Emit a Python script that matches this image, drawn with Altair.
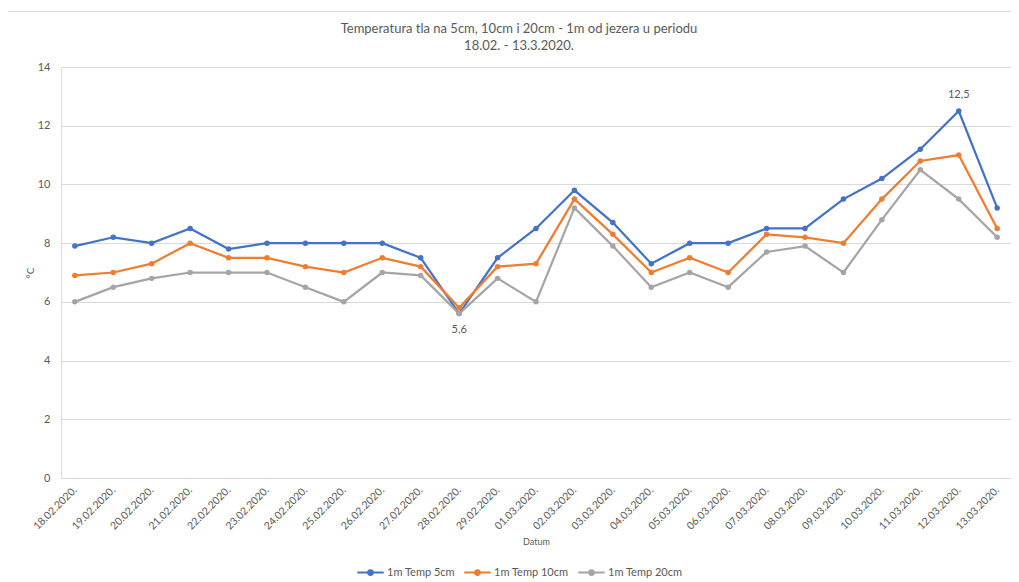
import altair as alt
import pandas as pd

dates = ["18.02.2020.", "19.02.2020.", "20.02.2020.", "21.02.2020.", "22.02.2020.",
         "23.02.2020.", "24.02.2020.", "25.02.2020.", "26.02.2020.", "27.02.2020.",
         "28.02.2020.", "29.02.2020.", "01.03.2020.", "02.03.2020.", "03.03.2020.",
         "04.03.2020.", "05.03.2020.", "06.03.2020.", "07.03.2020.", "08.03.2020.",
         "09.03.2020.", "10.03.2020.", "11.03.2020.", "12.03.2020.", "13.03.2020."]
temp5 = [7.9, 8.2, 8.0, 8.5, 7.8, 8.0, 8.0, 8.0, 8.0, 7.5, 5.6, 7.5, 8.5,
         9.8, 8.7, 7.3, 8.0, 8.0, 8.5, 8.5, 9.5, 10.2, 11.2, 12.5, 9.2]
temp10 = [6.9, 7.0, 7.3, 8.0, 7.5, 7.5, 7.2, 7.0, 7.5, 7.2, 5.8, 7.2, 7.3,
          9.5, 8.3, 7.0, 7.5, 7.0, 8.3, 8.2, 8.0, 9.5, 10.8, 11.0, 8.5]
temp20 = [6.0, 6.5, 6.8, 7.0, 7.0, 7.0, 6.5, 6.0, 7.0, 6.9, 5.6, 6.8, 6.0,
          9.2, 7.9, 6.5, 7.0, 6.5, 7.7, 7.9, 7.0, 8.8, 10.5, 9.5, 8.2]
series = ["1m Temp 5cm", "1m Temp 10cm", "1m Temp 20cm"]
colors = ["#4472C4", "#ED7D31", "#A5A5A5"]

rows = []
for name, vals in zip(series, [temp5, temp10, temp20]):
    for d, v in zip(dates, vals):
        rows.append({"Datum": d, "Serija": name, "T": v})
df = pd.DataFrame(rows)

blue = df[df["Serija"] == series[0]]
lo = blue[blue["T"] == blue["T"].min()]
hi = blue[blue["T"] == blue["T"].max()]

FONT = "Lato"
TXT = "#595959"

x = alt.X("Datum:N", sort=dates,
          scale=alt.Scale(type="point", padding=0.36),
          axis=alt.Axis(title="Datum", labelAngle=-45, labelAlign="right",
                        labelBaseline="middle", labelPadding=10, ticks=False,
                        domain=False, grid=False, labelFontSize=10.5,
                        labelColor=TXT, titleFontSize=9, titleColor=TXT,
                        titleFontWeight="normal", titlePadding=6,
                        labelFont=FONT, titleFont=FONT))
y = alt.Y("T:Q", scale=alt.Scale(domain=[0, 14]),
          axis=alt.Axis(title="°C", values=[0, 2, 4, 6, 8, 10, 12, 14],
                        ticks=False, domain=False, gridColor="#D9D9D9",
                        gridWidth=1, labelFontSize=11, labelColor=TXT,
                        labelPadding=11, titleFontSize=10, titleColor=TXT,
                        titleFontWeight="normal", titlePadding=2,
                        labelFont=FONT, titleFont=FONT))
color = alt.Color("Serija:N", sort=series,
                  scale=alt.Scale(domain=series, range=colors),
                  legend=alt.Legend(title=None, orient="none", direction="horizontal",
                                    legendX=295, legendY=491,
                                    symbolType="M-1,0H1M-0.18,0A0.18,0.18 0 1,1 0.18,0A0.18,0.18 0 1,1 -0.18,0Z",
                                    symbolSize=700, symbolStrokeWidth=2,
                                    labelFontSize=11, labelColor=TXT, labelFont=FONT,
                                    columnPadding=5, labelOffset=2))

base = alt.Chart(df)
lines = base.mark_line(strokeWidth=2.25).encode(x=x, y=y, color=color)
points = base.mark_point(filled=True, size=30, opacity=1).encode(x=x, y=y, color=color)

lab_lo = alt.Chart(lo).transform_calculate(
    lab="replace(format(datum.T, '.1f'), '.', ',')"
).mark_text(dy=16, fontSize=11, color=TXT, font=FONT).encode(
    x=x, y=y, text="lab:N")
lab_hi = alt.Chart(hi).transform_calculate(
    lab="replace(format(datum.T, '.1f'), '.', ',')"
).mark_text(dy=-16, fontSize=11, color=TXT, font=FONT).encode(
    x=x, y=y, text="lab:N")

# light chart-area frame (decoration, as in the spreadsheet chart)
frame = alt.Chart(pd.DataFrame({"f": [0]})).mark_rect(
    fill=None, stroke="#D9D9D9", strokeWidth=1
).encode(x=alt.value(-53.5), x2=alt.value(1000), y=alt.value(-55.5), y2=alt.value(600))

chart = alt.layer(frame, lines, points, lab_lo, lab_hi).properties(
    width=950, height=411,
    title=alt.Title(["Temperatura tla na 5cm, 10cm i 20cm - 1m od jezera u periodu",
                     "18.02. - 13.3.2020."],
                    fontSize=13, font=FONT, color=TXT, fontWeight="normal",
                    anchor="middle", dx=-17, offset=-42, lineHeight=17),
    autosize=alt.AutoSizeParams(type="none"),
    padding={"left": 53, "top": 59, "right": 0, "bottom": 104},
).configure_view(stroke=None).configure(background="white")

chart.save("out.html", embed_options={"renderer": "svg", "actions": False})
